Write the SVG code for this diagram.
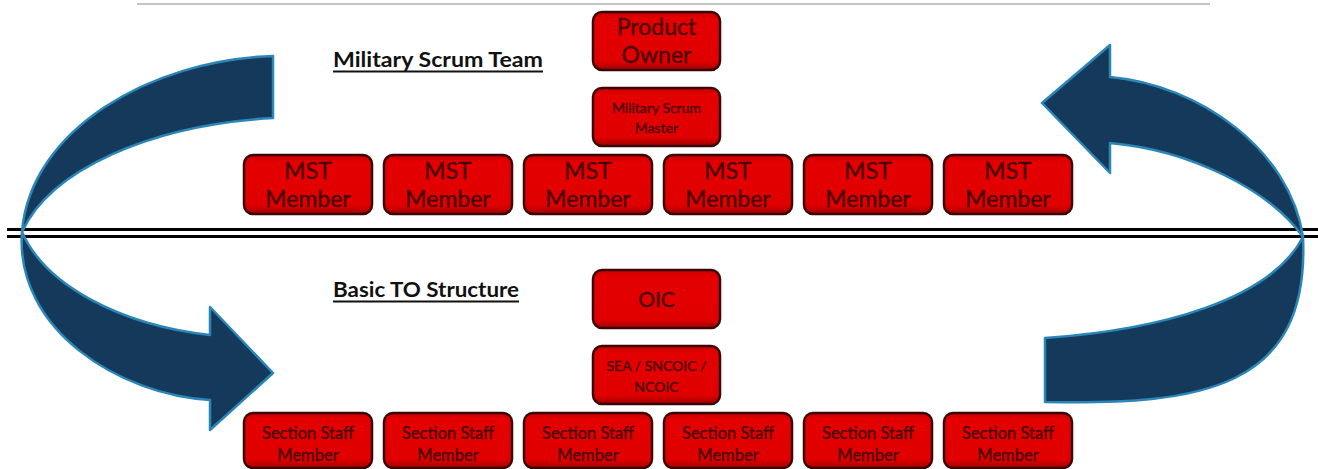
<svg xmlns="http://www.w3.org/2000/svg" width="1318" height="469" viewBox="0 0 1318 469">
<style>
.box{fill:url(#red);stroke:#3c0505;stroke-width:2.5}
.t{font-family:Lato,"Liberation Sans",sans-serif;fill:#4a0000;stroke:#4a0000;stroke-width:0.35;text-anchor:middle}
.big{font-size:23px}
.sm{font-size:14px}
.md{font-size:16.5px}
.title{font-family:Lato,"Liberation Sans",sans-serif;font-weight:bold;font-size:20px;fill:#111}
.arrow{fill:#14395a;stroke:#2b86b8;stroke-width:2.5;stroke-linejoin:round}
</style>
<defs>
<linearGradient id="red" x1="0" y1="0" x2="0" y2="1">
<stop offset="0" stop-color="#c80000"/>
<stop offset="0.12" stop-color="#e40000"/>
<stop offset="0.85" stop-color="#e00000"/>
<stop offset="1" stop-color="#a00000"/>
</linearGradient>
</defs>
<rect width="1318" height="469" fill="#fff"/>
<line x1="137" y1="4" x2="1210" y2="4" stroke="#c4c4c4" stroke-width="2"/>
<line x1="7" y1="229.5" x2="1318" y2="229.5" stroke="#000" stroke-width="3"/>
<line x1="7" y1="236.5" x2="1318" y2="236.5" stroke="#000" stroke-width="3"/>

<g id="title-mst">
<text class="title" x="333" y="67" textLength="210" lengthAdjust="spacingAndGlyphs">Military Scrum Team</text>
<line x1="333" y1="71.5" x2="543" y2="71.5" stroke="#111" stroke-width="2"/>
</g>
<g id="title-to">
<text class="title" x="333" y="297" textLength="186" lengthAdjust="spacingAndGlyphs">Basic TO Structure</text>
<line x1="333" y1="301.5" x2="519" y2="301.5" stroke="#111" stroke-width="2"/>
</g>

<g id="product-owner"><rect class="box" x="593" y="12" width="127" height="58" rx="9"/><text class="t big" x="656.5" y="35">Product</text><text class="t big" x="656.5" y="63">Owner</text></g>
<g id="scrum-master"><rect class="box" x="593" y="88" width="127" height="58" rx="9"/><text class="t sm" x="656.5" y="113">Military Scrum</text><text class="t sm" x="656.5" y="133">Master</text></g>

<g id="mst1"><rect class="box" x="244" y="155" width="128" height="59" rx="9"/><text class="t big" x="308" y="179">MST</text><text class="t big" x="308" y="207">Member</text></g>
<g id="mst2"><rect class="box" x="384" y="155" width="128" height="59" rx="9"/><text class="t big" x="448" y="179">MST</text><text class="t big" x="448" y="207">Member</text></g>
<g id="mst3"><rect class="box" x="524" y="155" width="128" height="59" rx="9"/><text class="t big" x="588" y="179">MST</text><text class="t big" x="588" y="207">Member</text></g>
<g id="mst4"><rect class="box" x="664" y="155" width="128" height="59" rx="9"/><text class="t big" x="728" y="179">MST</text><text class="t big" x="728" y="207">Member</text></g>
<g id="mst5"><rect class="box" x="804" y="155" width="128" height="59" rx="9"/><text class="t big" x="868" y="179">MST</text><text class="t big" x="868" y="207">Member</text></g>
<g id="mst6"><rect class="box" x="944" y="155" width="128" height="59" rx="9"/><text class="t big" x="1008" y="179">MST</text><text class="t big" x="1008" y="207">Member</text></g>

<g id="oic"><rect class="box" x="593" y="270" width="127" height="58" rx="9"/><text class="t" style="font-size:21px" x="656.5" y="307">OIC</text></g>
<g id="sea"><rect class="box" x="593" y="346" width="127" height="58" rx="9"/><text class="t sm" x="656.5" y="371">SEA / SNCOIC /</text><text class="t sm" x="656.5" y="392">NCOIC</text></g>

<g id="ss1"><rect class="box" x="244" y="413" width="128" height="55" rx="9"/><text class="t md" x="308" y="439">Section Staff</text><text class="t md" x="308" y="461">Member</text></g>
<g id="ss2"><rect class="box" x="384" y="413" width="128" height="55" rx="9"/><text class="t md" x="448" y="439">Section Staff</text><text class="t md" x="448" y="461">Member</text></g>
<g id="ss3"><rect class="box" x="524" y="413" width="128" height="55" rx="9"/><text class="t md" x="588" y="439">Section Staff</text><text class="t md" x="588" y="461">Member</text></g>
<g id="ss4"><rect class="box" x="664" y="413" width="128" height="55" rx="9"/><text class="t md" x="728" y="439">Section Staff</text><text class="t md" x="728" y="461">Member</text></g>
<g id="ss5"><rect class="box" x="804" y="413" width="128" height="55" rx="9"/><text class="t md" x="868" y="439">Section Staff</text><text class="t md" x="868" y="461">Member</text></g>
<g id="ss6"><rect class="box" x="944" y="413" width="128" height="55" rx="9"/><text class="t md" x="1008" y="439">Section Staff</text><text class="t md" x="1008" y="461">Member</text></g>

<g id="connectors">
<path class="arrow" d="M273,56 C150,60 30,130 22,232 C50,170 150,125 273,118 Z"/>
<path class="arrow" d="M22,232 C15,330 120,395 210,400 L210,430 L273,373 L210,307 L210,335 C120,325 45,285 22,232 Z"/>
<path class="arrow" d="M1303,237 C1290,150 1200,85 1110,77 L1110,45 L1042,103 L1110,173 L1110,143 C1190,150 1270,190 1303,237 Z"/>
<path class="arrow" d="M1303,237 C1310,390 1200,405 1045,402 L1045,338 C1160,330 1270,300 1303,237 Z"/>
</g>
</svg>
